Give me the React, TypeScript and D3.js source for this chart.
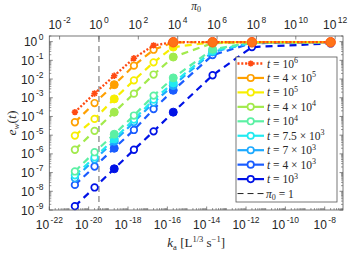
import { FC } from 'react';
import * as d3 from 'd3';

// k_a values (L^{1/3} s^-1) where the errors were evaluated
const kValues = [2e-21, 2e-20, 2e-19, 2e-18, 2e-17, 2e-16, 2e-14, 2e-12, 2e-8];

// e_w(t) for each time
const ewT1e6 = [1.7e-4, 1.7e-3, 1.5e-2, 0.13, 0.63, 0.93, 0.93, 0.93, 0.93];
const ewT4e5 = [4.9e-5, 5.2e-4, 5.0e-3, 5.2e-2, 0.37, 0.92, 0.93, 0.93, 0.93];
const ewT1e5 = [9.5e-6, 7.4e-5, 8.7e-4, 8.5e-3, 7.8e-2, 0.51, 0.92, 0.93, 0.93];
const ewT4e4 = [1.66e-6, 1.7e-5, 1.7e-4, 1.66e-3, 1.74e-2, 0.15, 0.83, 0.93, 0.93];
const ewT1e4 = [1.15e-7, 1.23e-6, 1.12e-5, 1.12e-4, 1.3e-3, 1.15e-2, 0.39, 0.9, 0.93];
const ewT75e3 = [7.1e-8, 6.5e-7, 6.3e-6, 6.9e-5, 7.9e-4, 6.2e-3, 0.32, 0.89, 0.93];
const ewT7e3 = [5e-8, 5e-7, 4.7e-6, 5e-5, 5.6e-4, 4.5e-3, 0.28, 0.87, 0.93];
const ewT4e3 = [2.2e-8, 2.1e-7, 2e-6, 1.9e-5, 2.5e-4, 2.5e-3, 0.19, 0.83, 0.93];
const ewT1e3 = [1.6e-9, 1.6e-8, 1.6e-7, 1.66e-6, 1.6e-5, 1.7e-4, 1.6e-2, 0.51, 0.8];

const seriesValues = [ewT1e6, ewT4e5, ewT1e5, ewT4e4, ewT1e4, ewT75e3, ewT7e3, ewT4e3, ewT1e3];
const seriesColors = ['#ff4a12', '#ffa000', '#f7ee00', '#a2ea4c', '#5cf0a4', '#22eaf0', '#1eaaff', '#1a5cff', '#0012e6'];
// legend text: [prefactor, exponent]
const seriesLabels: [string, string][] = [
  ['', '6'], ['4 × ', '5'], ['', '5'], ['4 × ', '4'], ['', '4'],
  ['7.5 × ', '3'], ['7 × ', '3'], ['4 × ', '3'], ['', '3'],
];
// which points show a filled marker
const filledPoints = [
  [5, 6, 7, 8], [2, 5], [2, 5, 6], [2, 5, 6], [2, 5, 6], [2, 5, 6], [2, 5, 6], [2, 5], [2, 5],
];

const xTicksBottom = d3.range(-22, -7, 2);
const xTicksTop = d3.range(-2, 13, 2);
const yTicks = d3.range(-9, 1);

const W = 348;
const H = 253;
const left = 49.3;
const right = 343;
const top = 36;
const bottom = 210;

const App: FC = () => {
  const x = d3.scaleLog().domain([1e-22, 8.5e-8]).range([left, right]);
  const xTop = d3.scaleLog().domain([3e-3, 2.5e12]).range([left, right]);
  const y = d3.scaleLog().domain([1e-9, 2]).range([bottom, top]);

  const line = d3.line<[number, number]>()
    .x(d => x(d[0]))
    .y(d => y(d[1]));

  const axisColor = '#555';
  const textColor = '#262626';

  const minorX: number[] = [];
  for (let e = -22; e < -7; e++) {
    for (let m = 1; m < 10; m++) {
      const v = m * Math.pow(10, e);
      if (v <= 8.5e-8 && !(m === 1 && e % 2 === 0)) minorX.push(v);
    }
  }
  const minorY: number[] = [];
  for (let e = -9; e <= 0; e++) {
    for (let m = 2; m < 10; m++) {
      const v = m * Math.pow(10, e);
      if (v <= 2) minorY.push(v);
    }
  }

  const starPath = (cx: number, cy: number, r: number) => {
    const a = r * 0.707;
    return `M${cx - r},${cy}L${cx + r},${cy}M${cx},${cy - r}L${cx},${cy + r}` +
      `M${cx - a},${cy - a}L${cx + a},${cy + a}M${cx - a},${cy + a}L${cx + a},${cy - a}`;
  };

  const order = d3.range(seriesValues.length).reverse();

  const legX0 = 236;
  const legY0 = 57;
  const rowH = 14.45;
  const supLabel = (e: number) => (e < 0 ? '-' + Math.abs(e) : String(e));

  return (
    <svg width={W} height={H} style={{ position: 'absolute', left: 0, top: 0, background: 'white' }}
      fontFamily="'Liberation Sans', Arial, sans-serif">
      {/* minor + major ticks */}
      {minorX.map((v, i) => (
        <line key={'mx' + i} x1={x(v)} x2={x(v)} y1={bottom} y2={bottom - 2} stroke={axisColor} strokeWidth={0.6} />
      ))}
      {xTicksBottom.map(e => (
        <line key={'Mx' + e} x1={x(Math.pow(10, e))} x2={x(Math.pow(10, e))} y1={bottom} y2={bottom - 3.5} stroke={axisColor} strokeWidth={0.7} />
      ))}
      {xTicksTop.map(e => (
        <line key={'Mt' + e} x1={xTop(Math.pow(10, e))} x2={xTop(Math.pow(10, e))} y1={top} y2={top + 3.5} stroke={axisColor} strokeWidth={0.7} />
      ))}
      {minorY.map((v, i) => (
        <g key={'my' + i}>
          <line x1={left} x2={left + 2} y1={y(v)} y2={y(v)} stroke={axisColor} strokeWidth={0.6} />
          <line x1={right} x2={right - 2} y1={y(v)} y2={y(v)} stroke={axisColor} strokeWidth={0.6} />
        </g>
      ))}
      {yTicks.map(e => (
        <g key={'My' + e}>
          <line x1={left} x2={left + 3.5} y1={y(Math.pow(10, e))} y2={y(Math.pow(10, e))} stroke={axisColor} strokeWidth={0.7} />
          <line x1={right} x2={right - 3.5} y1={y(Math.pow(10, e))} y2={y(Math.pow(10, e))} stroke={axisColor} strokeWidth={0.7} />
        </g>
      ))}

      {/* pi0 = 1 */}
      <line x1={xTop(1)} x2={xTop(1)} y1={top} y2={bottom} stroke="#666" strokeWidth={1} strokeDasharray="6,4" />

      {/* series */}
      {order.map(si => {
        const pts = kValues.map((k, i) => [k, seriesValues[si][i]] as [number, number]);
        const isRed = si === 0;
        return (
          <g key={'s' + si}>
            <path d={line(pts) || ''} fill="none" stroke={seriesColors[si]}
              strokeWidth={isRed ? 2.3 : 2.2} strokeDasharray={isRed ? '2,1.8' : '7,5'} />
            {pts.map((p, i) => {
              const cx = x(p[0]);
              const cy = y(p[1]);
              const filled = filledPoints[si].includes(i);
              if (isRed) {
                return filled
                  ? <circle key={i} cx={cx} cy={cy} r={4.8} fill="#ff7318" stroke="#ff5a14" strokeWidth={1} />
                  : <path key={i} d={starPath(cx, cy, 3.2)} stroke={seriesColors[si]} strokeWidth={1.6} />;
              }
              return filled
                ? <circle key={i} cx={cx} cy={cy} r={4} fill={seriesColors[si]} stroke={seriesColors[si]} strokeWidth={1} />
                : <circle key={i} cx={cx} cy={cy} r={3.3} fill="white" stroke={seriesColors[si]} strokeWidth={1.7} />;
            })}
          </g>
        );
      })}

      {/* axes box */}
      <rect x={left} y={top} width={right - left} height={bottom - top} fill="none" stroke={axisColor} strokeWidth={0.8} />

      {/* tick labels */}
      {xTicksBottom.map(e => (
        <text key={'lx' + e} x={x(Math.pow(10, e))} y={228.5} textAnchor="middle" fontSize={12} fill={textColor}>
          10<tspan dx={1.5} dy={-6} fontSize={8.5}>{supLabel(e)}</tspan>
        </text>
      ))}
      {xTicksTop.map(e => (
        <text key={'lt' + e} x={xTop(Math.pow(10, e))} y={28.5} textAnchor="middle" fontSize={12} fill={textColor}>
          10<tspan dx={1.5} dy={-6} fontSize={8.5}>{supLabel(e)}</tspan>
        </text>
      ))}
      {yTicks.map(e => (
        <text key={'ly' + e} x={43.5} y={y(Math.pow(10, e)) + 4.5} textAnchor="end" fontSize={12} fill={textColor}>
          10<tspan dx={1.5} dy={-6} fontSize={8.5}>{supLabel(e)}</tspan>
        </text>
      ))}

      {/* axis titles */}
      <text x={(left + right) / 2} y={247} textAnchor="middle" fontFamily="'Liberation Serif', serif" fontSize={13} fill={textColor}>
        <tspan fontStyle="italic">k</tspan>
        <tspan dy={2.5} fontSize={8.5}>a</tspan>
        <tspan dy={-2.5}> [L</tspan>
        <tspan dy={-5} fontSize={8.5}>1/3</tspan>
        <tspan dy={5}> s</tspan>
        <tspan dy={-5} fontSize={8.5}>−1</tspan>
        <tspan dy={5}>]</tspan>
      </text>
      <text x={(left + right) / 2} y={9.5} textAnchor="middle" fontFamily="'Liberation Serif', serif" fontSize={11.5} fill={textColor}>
        <tspan fontStyle="italic">π</tspan>
        <tspan dy={2} fontSize={8}>0</tspan>
      </text>
      <text transform={`translate(16,${(top + bottom) / 2}) rotate(-90)`} textAnchor="middle"
        fontFamily="'Liberation Serif', serif" fontSize={13.5} fill={textColor}>
        <tspan fontStyle="italic">e</tspan>
        <tspan dy={2.5} fontSize={9} fontStyle="italic">w</tspan>
        <tspan dy={-2.5}>(</tspan>
        <tspan fontStyle="italic">t</tspan>
        <tspan>)</tspan>
      </text>

      {/* legend */}
      <rect x={legX0} y={legY0} width={101} height={145} fill="white" stroke={axisColor} strokeWidth={0.8} />
      {seriesLabels.map((lab, si) => {
        const cy = legY0 + 6.5 + si * rowH;
        const isRed = si === 0;
        return (
          <g key={'lg' + si}>
            {isRed ? (
              <>
                <line x1={legX0 + 1.5} x2={legX0 + 28} y1={cy} y2={cy} stroke={seriesColors[0]} strokeWidth={2.3} strokeDasharray="2,1.8" />
                <path d={starPath(legX0 + 14.7, cy, 3)} stroke={seriesColors[0]} strokeWidth={1.6} />
              </>
            ) : (
              <>
                <line x1={legX0 + 1.5} x2={legX0 + 28} y1={cy} y2={cy} stroke={seriesColors[si]} strokeWidth={2.2} />
                <circle cx={legX0 + 14.7} cy={cy} r={3.2} fill="white" stroke={seriesColors[si]} strokeWidth={1.7} />
              </>
            )}
            <text x={legX0 + 31} y={cy + 4} fontFamily="'Liberation Serif', serif" fontSize={11.5} fill={textColor}>
              <tspan fontStyle="italic">t</tspan> = {lab[0]}10<tspan dy={-4.5} fontSize={8}>{lab[1]}</tspan>
            </text>
          </g>
        );
      })}
      <line x1={legX0 + 1.5} x2={legX0 + 28} y1={legY0 + 6.5 + 9 * rowH} y2={legY0 + 6.5 + 9 * rowH}
        stroke="#222" strokeWidth={1} strokeDasharray="6,4" />
      <text x={legX0 + 30} y={legY0 + 6.5 + 9 * rowH + 4} fontFamily="'Liberation Serif', serif" fontSize={11.5} fill={textColor}>
        <tspan fontStyle="italic">π</tspan>
        <tspan dy={2.5} fontSize={8}>0</tspan>
        <tspan dy={-2.5}> = 1</tspan>
      </text>
    </svg>
  );
};

export default App;
